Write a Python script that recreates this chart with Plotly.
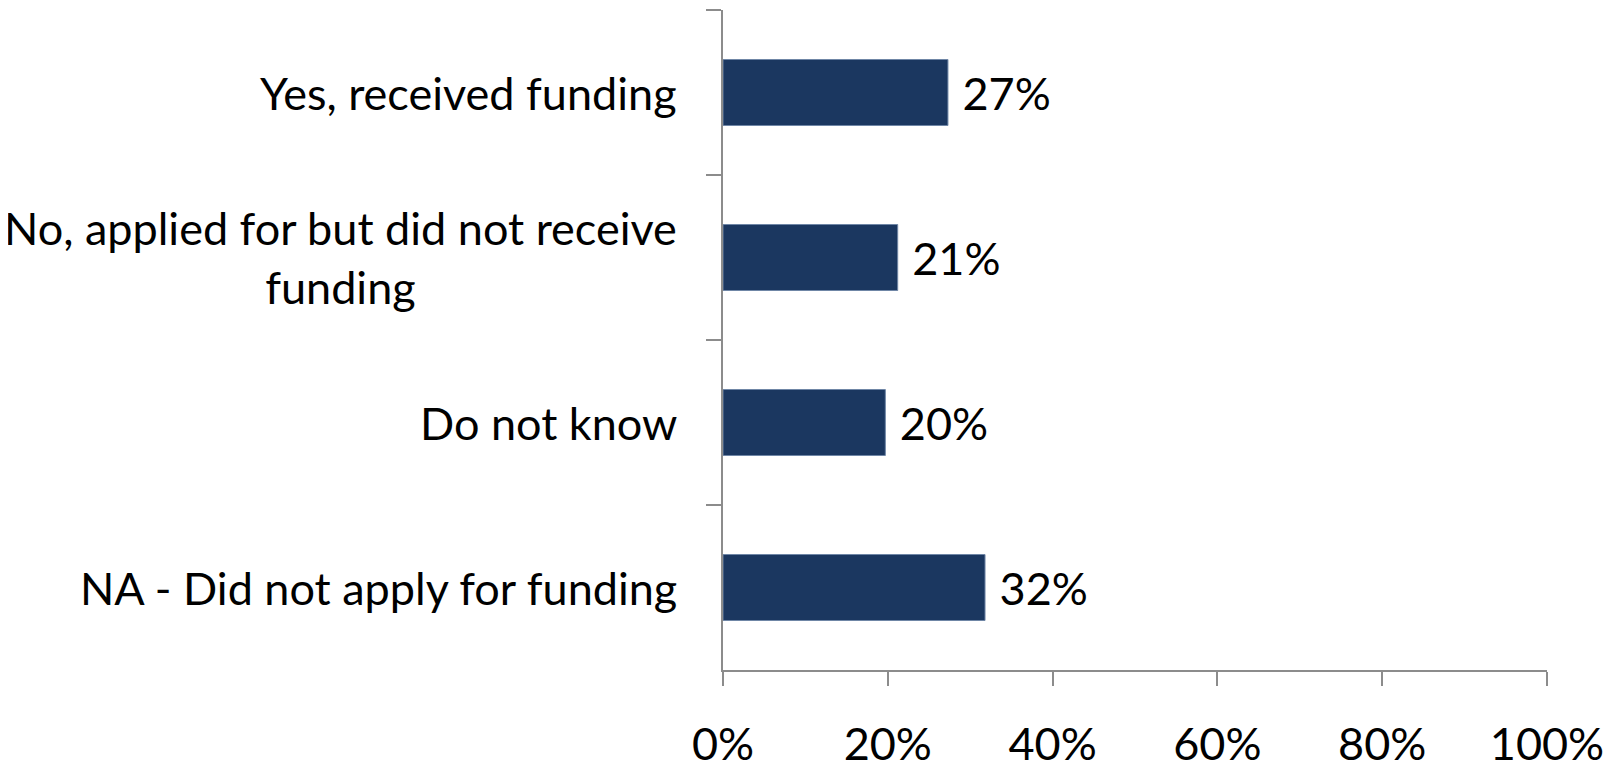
import plotly.graph_objects as go

categories = [
    "Yes, received funding",
    "No, applied for but did not receive<br>funding",
    "Do not know",
    "NA - Did not apply for funding",
]
values = [0.273, 0.212, 0.197, 0.318]
labels = ["27%", "21%", "20%", "32%"]
x_ticks = [0, 0.2, 0.4, 0.6, 0.8, 1.0]
x_tick_labels = ["0%", "20%", "40%", "60%", "80%", "100%"]

FONT = "Lato"
FS = 45

fig = go.Figure()
fig.add_trace(go.Bar(
    y=categories,
    x=values,
    orientation="h",
    marker=dict(color="#1b3760", line=dict(color="#6f86a6", width=1)),
    text=[" " + t for t in labels],
    textposition="outside",
    textfont=dict(family=FONT, size=FS, color="black"),
    cliponaxis=False,
    width=0.4,
))

for c in categories:
    fig.add_annotation(
        x=0, xref="paper", y=c, yref="y",
        text=c, showarrow=False, xanchor="right", yanchor="middle",
        align="center", xshift=-44,
        font=dict(family=FONT, size=FS, color="black"),
    )

# page body has an 8px default margin, so the figure is offset by 8px
fig.update_layout(
    width=1606, height=756,
    margin=dict(l=715, r=67, t=2, b=94, autoexpand=False),
    plot_bgcolor="white", paper_bgcolor="white",
    showlegend=False,
    font=dict(family=FONT, size=FS, color="black"),
    xaxis=dict(
        range=[0, 1], tickvals=x_ticks, ticktext=x_tick_labels,
        showgrid=False, zeroline=False, automargin=False,
        showline=True, linecolor="#8c8c8c", linewidth=1.5,
        ticks="outside", ticklen=14, tickcolor="#8c8c8c", tickwidth=1.5,
        ticklabelstandoff=20,
        tickfont=dict(family=FONT, size=FS, color="black"),
    ),
    yaxis=dict(
        categoryorder="array", categoryarray=categories,
        autorange="reversed", automargin=False,
        showgrid=False, zeroline=False,
        showline=True, linecolor="#8c8c8c", linewidth=1.5,
        ticks="outside", tickson="boundaries", ticklen=15,
        tickcolor="#8c8c8c", tickwidth=1.5,
        showticklabels=False,
    ),
)

fig.write_html("out.html")
